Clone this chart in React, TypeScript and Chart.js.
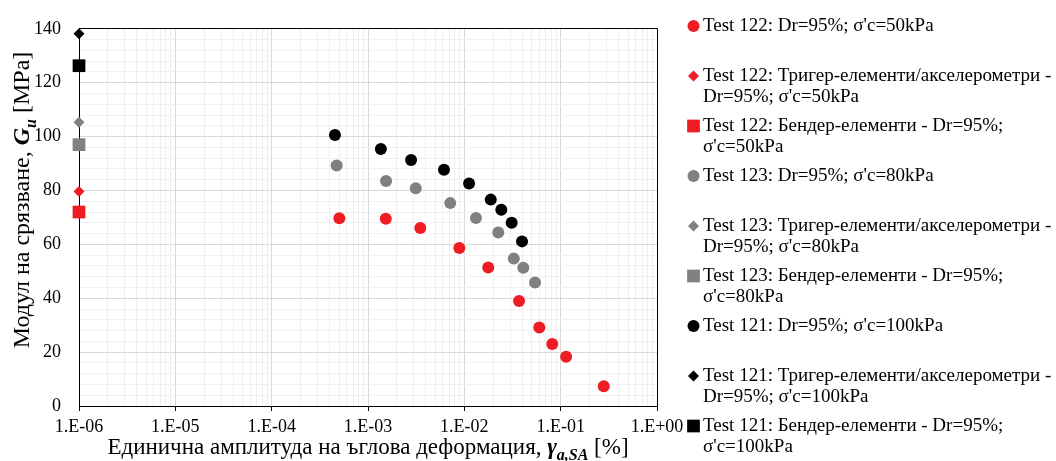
import React, { useEffect, useRef } from 'react';
import { Chart, registerables } from 'chart.js';

Chart.register(...registerables);

const FONT = "'Liberation Serif', 'Times New Roman', serif";

// Test 122 (red), Dr=95%, σ'c=50kPa
const test122Strain = [5.04e-4, 1.53e-3, 3.49e-3, 8.87e-3, 1.77e-2, 3.7e-2, 6.0e-2, 8.18e-2, 0.114, 0.28];
const test122G = [69.7, 69.5, 66.1, 58.6, 51.4, 39.0, 29.1, 23.0, 18.3, 7.3];
// Test 123 (grey), Dr=95%, σ'c=80kPa
const test123Strain = [4.73e-4, 1.54e-3, 3.13e-3, 7.14e-3, 1.32e-2, 2.25e-2, 3.26e-2, 4.09e-2, 5.42e-2];
const test123G = [89.3, 83.5, 80.8, 75.3, 69.8, 64.4, 54.7, 51.3, 45.8];
// Test 121 (black), Dr=95%, σ'c=100kPa
const test121Strain = [4.54e-4, 1.36e-3, 2.8e-3, 6.15e-3, 1.12e-2, 1.88e-2, 2.42e-2, 3.1e-2, 3.97e-2];
const test121G = [100.6, 95.4, 91.3, 87.7, 82.6, 76.6, 72.8, 68.0, 61.1];

// small-strain measurements plotted at 1.E-06
const smallStrain = [1e-6];
const trigger122G = [79.6];
const bender122G = [72.0];
const trigger123G = [105.3];
const bender123G = [97.0];
const trigger121G = [138.2];
const bender121G = [126.3];

const xMin = 1e-6;
const xMax = 1;
const yMin = 0;
const yMax = 140;
const yMinorStep = 4;
const yMajorStep = 20;

const legendLabels: string[][] = [
  ["Test 122: Dr=95%; σ'c=50kPa"],
  ['Test 122: Тригер-елементи/акселерометри -', "Dr=95%; σ'c=50kPa"],
  ['Test 122: Бендер-елементи - Dr=95%;', "σ'c=50kPa"],
  ["Test 123: Dr=95%; σ'c=80kPa"],
  ['Test 123: Тригер-елементи/акселерометри -', "Dr=95%; σ'c=80kPa"],
  ['Test 123: Бендер-елементи - Dr=95%;', "σ'c=80kPa"],
  ["Test 121: Dr=95%; σ'c=100kPa"],
  ['Test 121: Тригер-елементи/акселерометри -', "Dr=95%; σ'c=100kPa"],
  ['Test 121: Бендер-елементи - Dr=95%;', "σ'c=100kPa"],
];

// rich titles: [text, kind] kind: n = normal, b = bold italic, s = bold italic subscript
const xTitleParts: [string, string][] = [
  ['Единична амплитуда на ъглова деформация, ', 'n'],
  ['γ', 'b'],
  ['a,SA', 's'],
  [' [%]', 'n'],
];
const yTitleParts: [string, string][] = [
  ['Модул на срязване, ', 'n'],
  ['G', 'b'],
  ['u', 's'],
  [' [MPa]', 'n'],
];

const RED = '#ee1d23';
const GREY = '#808080';
const BLACK = '#000000';

function pts(xs: number[], ys: number[]) {
  return ys.map((y, i) => ({ x: xs[Math.min(i, xs.length - 1)], y }));
}

function fontFor(kind: string, size: number) {
  if (kind === 'b') return `italic bold ${size}px ${FONT}`;
  if (kind === 's') return `italic bold ${Math.round(size * 0.68)}px ${FONT}`;
  return `${size}px ${FONT}`;
}

function drawRich(ctx: CanvasRenderingContext2D, parts: [string, string][], cx: number, y: number, size: number) {
  let total = 0;
  for (const [t, k] of parts) {
    ctx.font = fontFor(k, size);
    total += ctx.measureText(t).width;
  }
  let x = cx - total / 2;
  ctx.textAlign = 'left';
  ctx.textBaseline = 'alphabetic';
  for (const [t, k] of parts) {
    ctx.font = fontFor(k, size);
    ctx.fillText(t, x, y + (k === 's' ? size * 0.28 : 0));
    x += ctx.measureText(t).width;
  }
}

function drawMarker(ctx: CanvasRenderingContext2D, style: string, r: number, color: string, x: number, y: number) {
  ctx.fillStyle = color;
  ctx.beginPath();
  if (style === 'circle') {
    ctx.arc(x, y, r, 0, Math.PI * 2);
  } else if (style === 'rectRot') {
    ctx.moveTo(x - r, y);
    ctx.lineTo(x, y - r);
    ctx.lineTo(x + r, y);
    ctx.lineTo(x, y + r);
    ctx.closePath();
  } else {
    const h = Math.SQRT1_2 * r;
    ctx.rect(x - h, y - h, 2 * h, 2 * h);
  }
  ctx.fill();
}

const decorPlugin = {
  id: 'decor',
  beforeDatasetsDraw(chart: any) {
    const { ctx, chartArea: a } = chart;
    ctx.save();
    ctx.strokeStyle = '#000';
    ctx.lineWidth = 1;
    ctx.beginPath();
    const top = Math.floor(a.top) + 0.5;
    const right = Math.floor(a.right) + 0.5;
    ctx.moveTo(Math.floor(a.left), top);
    ctx.lineTo(right, top);
    ctx.lineTo(right, Math.floor(a.bottom) + 1);
    ctx.stroke();
    ctx.restore();
  },
  afterDraw(chart: any) {
    const { ctx, chartArea: a } = chart;
    ctx.save();
    ctx.fillStyle = '#000';
    // x title
    drawRich(ctx, xTitleParts, (a.left + a.right) / 2, 454, 23);
    // y title (rotated)
    ctx.save();
    ctx.translate(29, 200);
    ctx.rotate(-Math.PI / 2);
    drawRich(ctx, yTitleParts, 0, 0, 24);
    ctx.restore();
    // legend
    const ds = chart.data.datasets;
    const lx = 693.5;
    const tx = 703;
    ds.forEach((d: any, i: number) => {
      const y = 26 + 50 * i;
      drawMarker(ctx, d.pointStyle, d.pointRadius, d.backgroundColor, lx, y);
      ctx.fillStyle = '#000';
      ctx.font = `19px ${FONT}`;
      ctx.textAlign = 'left';
      ctx.textBaseline = 'middle';
      legendLabels[i].forEach((line, j) => ctx.fillText(line, tx, y + 21.5 * j));
    });
    ctx.restore();
  },
};

function formatExp(v: number) {
  const e = Math.round(Math.log10(v));
  const s = e < 0 ? '-' : '+';
  return `1.E${s}${String(Math.abs(e)).padStart(2, '0')}`;
}

function isDecade(v: number) {
  const l = Math.log10(v);
  return Math.abs(l - Math.round(l)) < 1e-9;
}

export default function App() {
  const ref = useRef<HTMLCanvasElement | null>(null);
  useEffect(() => {
    if (!ref.current) return;
    const mk = (label: string, data: any[], color: string, style: string, r: number) => ({
      label,
      data,
      backgroundColor: color,
      borderColor: color,
      borderWidth: 0,
      pointStyle: style,
      pointRadius: r,
      pointHoverRadius: r,
      showLine: false,
      clip: false,
    });
    const chart = new Chart(ref.current, {
      type: 'scatter',
      data: {
        datasets: [
          mk(legendLabels[0].join(' '), pts(test122Strain, test122G), RED, 'circle', 6),
          mk(legendLabels[1].join(' '), pts(smallStrain, trigger122G), RED, 'rectRot', 5.5),
          mk(legendLabels[2].join(' '), pts(smallStrain, bender122G), RED, 'rect', 9),
          mk(legendLabels[3].join(' '), pts(test123Strain, test123G), GREY, 'circle', 6),
          mk(legendLabels[4].join(' '), pts(smallStrain, trigger123G), GREY, 'rectRot', 5.5),
          mk(legendLabels[5].join(' '), pts(smallStrain, bender123G), GREY, 'rect', 9),
          mk(legendLabels[6].join(' '), pts(test121Strain, test121G), BLACK, 'circle', 6),
          mk(legendLabels[7].join(' '), pts(smallStrain, trigger121G), BLACK, 'rectRot', 5.5),
          mk(legendLabels[8].join(' '), pts(smallStrain, bender121G), BLACK, 'rect', 9),
        ],
      },
      options: {
        responsive: false,
        animation: false,
        events: [],
        layout: { padding: { left: 0, top: 18, right: 399, bottom: 0 } },
        plugins: { legend: { display: false }, tooltip: { enabled: false } },
        scales: {
          x: {
            type: 'logarithmic',
            min: xMin,
            max: xMax,
            afterBuildTicks: (s: any) => {
              const ticks: any[] = [];
              for (let e = Math.round(Math.log10(xMin)); e < Math.round(Math.log10(xMax)); e++) {
                for (let k = 1; k <= 9; k++) ticks.push({ value: k * Math.pow(10, e) });
              }
              ticks.push({ value: xMax });
              s.ticks = ticks;
            },
            afterFit: (s: any) => {
              s.height = 55;
            },
            ticks: {
              autoSkip: false,
              maxRotation: 0,
              padding: 5,
              color: '#000',
              font: { family: FONT, size: 18 },
              callback: (v: any) => (isDecade(Number(v)) ? formatExp(Number(v)) : ''),
            },
            grid: {
              color: (c: any) => (c.tick && isDecade(c.tick.value) ? '#d9d9d9' : '#efefef'),
              tickColor: (c: any) => (c.tick && isDecade(c.tick.value) ? '#000' : 'rgba(0,0,0,0)'),
              tickLength: 5,
              lineWidth: 1,
            },
            border: { color: '#000', width: 1 },
          },
          y: {
            type: 'linear',
            min: yMin,
            max: yMax,
            afterFit: (s: any) => {
              s.width = 79;
            },
            ticks: {
              stepSize: yMinorStep,
              autoSkip: false,
              padding: 18,
              color: '#000',
              font: { family: FONT, size: 18 },
              callback: (v: any) => (Number(v) % yMajorStep === 0 ? String(v) : ''),
            },
            grid: {
              color: (c: any) => (c.tick && c.tick.value % yMajorStep === 0 ? '#d9d9d9' : '#f0f0f0'),
              drawTicks: false,
              lineWidth: 1,
            },
            border: { color: '#000', width: 1 },
          },
        },
      },
      plugins: [decorPlugin],
    } as any);
    return () => chart.destroy();
  }, []);
  return (
    <div style={{ position: 'fixed', left: 0, top: 0, width: 1056, height: 461, background: '#fff' }}>
      <canvas ref={ref} width={1056} height={461} style={{ display: 'block', width: 1056, height: 461 }} />
    </div>
  );
}
